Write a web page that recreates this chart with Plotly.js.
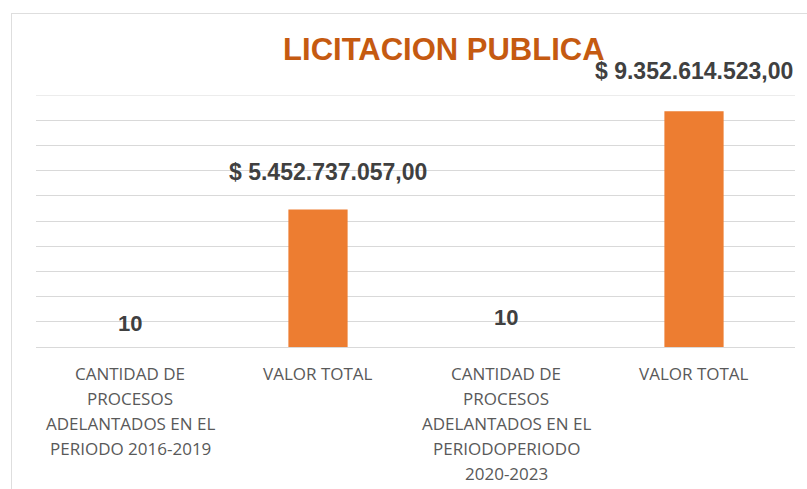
<!DOCTYPE html>
<html>
<head>
<meta charset="utf-8">
<script src="https://cdn.plot.ly/plotly-3.0.1.min.js"></script>
<style>
  html, body { margin: 0; padding: 0; overflow: hidden; background: #fff; }
  #frame { position: absolute; left: 11px; top: 13px; width: 900px; height: 600px; border: 1px solid #dedede; box-sizing: border-box; }
  #chart { position: absolute; left: 0; top: 0; width: 807px; height: 489px; }
</style>
</head>
<body>
<div id="frame"></div>
<div id="chart"></div>
<script>
const categories = ["c1", "c2", "c3", "c4"];
const tickLabels = [
  "CANTIDAD DE<br>PROCESOS<br>ADELANTADOS EN EL<br>PERIODO 2016-2019",
  "VALOR TOTAL",
  "CANTIDAD DE<br>PROCESOS<br>ADELANTADOS EN EL<br>PERIODOPERIODO<br>2020-2023",
  "VALOR TOTAL"
];
const values = [10, 5452737057, 10, 9352614523];
const valueLabels = ["10", "$ 5.452.737.057,00", "10", "$ 9.352.614.523,00"];
const yTicks = [0, 1e9, 2e9, 3e9, 4e9, 5e9, 6e9, 7e9, 8e9, 9e9, 1e10];

const labelShiftY = [24, 38, 30, 40];
const labelShiftX = [0, 10, 0, 0];
const labelSize = [22, 23, 22, 23];

const trace = {
  type: "bar",
  x: categories,
  y: values,
  marker: { color: "#ED7D31" },
  hoverinfo: "skip"
};

const annotations = categories.map((c, i) => ({
  x: c, y: values[i], xref: "x", yref: "y",
  text: valueLabels[i], showarrow: false,
  yanchor: "middle", xanchor: "center",
  yshift: labelShiftY[i], xshift: labelShiftX[i],
  font: { family: "Liberation Sans, Arial, sans-serif", size: labelSize[i], color: "#404040", weight: "bold" }
}));

// category labels, one annotation per line for Excel-like line spacing
categories.forEach((c, i) => {
  tickLabels[i].split("<br>").forEach((line, j) => {
    annotations.push({
      x: c, y: 0, xref: "x", yref: "y",
      text: line, showarrow: false,
      yanchor: "middle", xanchor: "center",
      yshift: -(26 + 25 * j),
      font: { family: "Open Sans, sans-serif", size: 17, color: "#595959" }
    });
  });
});

const layout = {
  width: 807, height: 489,
  paper_bgcolor: "rgba(0,0,0,0)", plot_bgcolor: "rgba(0,0,0,0)",
  margin: { l: 36, r: 12, t: 95, b: 142 },
  bargap: 0.685,
  showlegend: false,
  title: {
    text: "<b>LICITACION PUBLICA</b>",
    x: 0.55, xanchor: "center", y: 0.9, yanchor: "middle", yref: "container",
    font: { family: "Liberation Sans, Arial, sans-serif", size: 31, color: "#C55A11" }
  },
  xaxis: {
    type: "category",
    tickvals: categories, showticklabels: false,
    ticks: "", showline: false, showgrid: false, zeroline: false,
    fixedrange: true
  },
  yaxis: {
    range: [0, 1e10], tickvals: yTicks, showticklabels: false,
    showgrid: true, gridcolor: "#d9d9d9", gridwidth: 1,
    zeroline: true, zerolinecolor: "#d9d9d9", zerolinewidth: 1,
    showline: false, ticks: "", fixedrange: true
  },
  shapes: [{
    type: "line", xref: "paper", yref: "y",
    x0: 0, x1: 1, y0: yTicks[yTicks.length - 1], y1: yTicks[yTicks.length - 1],
    line: { color: "#d9d9d9", width: 1 }, layer: "below"
  }],
  annotations: annotations
};

Plotly.newPlot("chart", [trace], layout, { displayModeBar: false, staticPlot: true });
</script>
</body>
</html>
